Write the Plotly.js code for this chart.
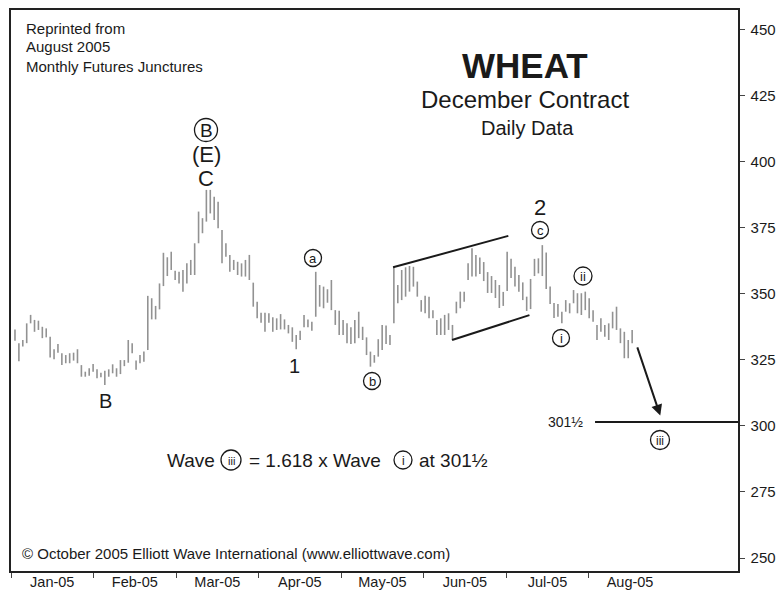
<!DOCTYPE html>
<html><head><meta charset="utf-8">
<script src="https://cdn.plot.ly/plotly-3.0.1.min.js"></script>
<style>html,body{margin:0;padding:0;background:#fff}</style>
</head><body><div id="chart" style="width:780px;height:590px"></div>
<script>
// ---- data ----
const months = ['Jan-05','Feb-05','Mar-05','Apr-05','May-05','Jun-05','Jul-05','Aug-05'];
const high = [336.5,331.3,332.5,338.8,342.0,340.1,339.8,337.5,336.9,333.7,
329.0,331.0,327.5,326.8,327.5,327.7,329.0,323.0,320.5,321.8,
323.4,321.4,320.1,320.9,321.4,323.3,321.8,324.9,324.9,332.5,
331.3,324.7,326.8,328.1,349.2,348.3,345.4,353.9,365.5,363.8,
365.9,358.7,358.3,359.0,361.5,362.8,369.1,381.1,378.6,389.3,
389.3,386.7,384.8,374.1,369.1,364.7,362.8,362.1,361.5,362.8,
364.7,354.2,347.0,342.8,342.8,342.6,341.1,340.7,342.3,340.3,
338.2,337.3,334.4,336.0,342.0,340.3,339.4,358.3,353.3,352.7,
351.7,355.2,343.8,343.6,340.1,338.8,337.3,340.1,343.2,337.5,
333.5,328.1,326.8,332.8,338.2,338.0,334.4,360.0,353.3,359.0,
360.0,360.5,360.2,354.6,347.6,349.2,348.9,343.8,340.1,340.7,
342.0,342.6,338.2,347.0,350.8,350.8,361.5,367.2,364.7,363.7,
362.0,358.2,356.7,355.2,353.3,350.7,365.9,363.2,360.2,357.1,
354.3,348.9,355.6,363.2,363.4,368.4,365.6,352.7,346.5,346.1,
343.2,347.6,346.4,351.4,350.2,350.2,350.8,348.3,343.8,338.2,
340.7,338.2,338.8,343.2,345.1,336.9,335.6,332.5,336.3];
const low = [332.2,324.5,330.0,331.3,338.8,335.6,336.3,333.2,333.5,325.9,
325.2,327.7,323.0,323.7,323.7,324.7,323.7,318.6,318.6,319.0,
320.5,318.0,318.4,315.5,318.6,319.9,318.6,319.6,322.6,323.9,
327.5,321.2,323.7,324.3,328.7,340.3,340.3,344.1,352.9,356.7,
359.0,355.2,353.9,350.8,353.9,357.1,357.1,369.1,372.9,377.3,
380.4,377.9,374.8,361.5,364.0,358.3,359.0,357.1,356.5,356.5,
355.2,345.1,340.7,339.0,335.6,339.0,335.6,336.3,336.5,336.5,
335.0,331.8,329.0,332.5,337.3,337.3,336.0,341.3,345.1,344.5,
346.6,343.8,338.2,334.4,334.4,331.3,331.0,331.3,333.2,332.5,
326.8,322.4,323.9,326.2,328.7,331.0,330.6,338.8,346.4,347.6,
348.9,350.8,352.7,348.9,343.2,342.6,340.7,340.7,334.4,334.4,
334.4,336.3,332.5,342.6,344.5,347.0,355.2,356.5,356.5,357.5,
354.8,350.3,350.3,348.4,344.6,345.4,351.0,356.0,352.7,350.8,
347.6,343.5,344.2,356.7,357.7,356.7,351.8,346.1,340.8,341.3,
338.8,343.2,342.6,346.4,342.6,341.96,343.8,340.7,339.4,332.5,
335.6,333.7,332.5,336.9,336.3,331.3,325.6,325.6,331.3];
const yTicks = [250,275,300,325,350,375,400,425,450];
const targetPrice = 301.5;
const targetLabel = '301½';

// ---- geometry helpers ----
const L = 11, R = 738, T = 10, B = 571;
const P = (px, py) => ({x: (px - L) / (R - L), y: (B - py) / (B - T)});
const FONT = 'Liberation Sans, Arial, Helvetica, sans-serif';
const xr = [-1.02, 185.1];
const span = 21.13, t0 = -1.02;

// high-low bars as line segments
const bx = [], by = [];
high.forEach((h, i) => { bx.push(i, i, null); by.push(low[i], h, null); });

const traces = [{
  x: bx, y: by, type: 'scatter', mode: 'lines',
  line: {color: '#929292', width: 1.6}, hoverinfo: 'skip', showlegend: false
}];

const annotations = [];
function txt(px, py, text, size, opt) {
  const p = P(px, py);
  annotations.push(Object.assign({xref: 'paper', yref: 'paper', x: p.x, y: p.y,
    text: text, showarrow: false, xanchor: 'center', yanchor: 'middle',
    font: {family: FONT, size: size, color: '#1a1a1a'}}, opt || {}));
}
const shapes = [];
function circ(px, py, r) {
  const a = P(px - r, py + r), b = P(px + r, py - r);
  shapes.push({type: 'circle', xref: 'paper', yref: 'paper', x0: a.x, y0: a.y, x1: b.x, y1: b.y,
    line: {color: '#1a1a1a', width: 1.3}});
}
function circled(px, py, t, r, size) { circ(px, py, r); txt(px, py + 0.5, t, size); }

// header text
txt(24, 29, 'Reprinted from', 15, {xanchor: 'left'});
txt(24, 47, 'August 2005', 15, {xanchor: 'left'});
txt(24, 66, 'Monthly Futures Junctures', 15, {xanchor: 'left'});
txt(525, 65, '<b>WHEAT</b>', 35);
txt(525, 100, 'December Contract', 24);
txt(527, 128, 'Daily Data', 20);

// wave labels
circled(206, 130, 'B', 11.5, 19);
txt(206, 155, '(E)', 22);
txt(206, 178, 'C', 22);
txt(105, 401, 'B', 20);
txt(294, 366, '1', 20);
txt(540, 207, '2', 22);
circled(313, 258, 'a', 8.5, 13);
circled(372, 381, 'b', 8.5, 13);
circled(540, 230, 'c', 8.5, 13);
circled(561, 338, 'i', 8.5, 13);
circled(583, 276, 'ii', 9, 13);
circled(660, 440, 'iii', 9.5, 12);
txt(565, 422, targetLabel, 14);

// projection text line
txt(165, 460, 'Wave', 19, {xanchor: 'left'});
circled(231, 460, 'iii', 10, 11);
txt(247, 460, '= 1.618 x Wave', 19, {xanchor: 'left'});
circled(403, 460, 'i', 9, 12);
txt(417, 460, 'at ' + targetLabel, 19, {xanchor: 'left'});

txt(20, 553, '© October 2005 Elliott Wave International (www.elliottwave.com)', 15, {xanchor: 'left'});

// projection arrow (data coords)
annotations.push({xref: 'x', yref: 'y', axref: 'x', ayref: 'y',
  x: 165.2, y: 303.9, ax: 159.2, ay: 330.3, showarrow: true, text: '',
  arrowhead: 2, arrowsize: 1.1, arrowwidth: 2, arrowcolor: '#1a1a1a'});

// flag channel lines and target line (data coords)
shapes.push({type: 'line', xref: 'x', yref: 'y', x0: 96.8, y0: 360.0, x1: 126.3, y1: 371.9,
  line: {color: '#1a1a1a', width: 2}});
shapes.push({type: 'line', xref: 'x', yref: 'y', x0: 111.9, y0: 332.5, x1: 131.7, y1: 341.9,
  line: {color: '#1a1a1a', width: 2}});
shapes.push({type: 'line', xref: 'x', yref: 'y', x0: 148.5, y0: targetPrice, x1: xr[1], y1: targetPrice,
  line: {color: '#1a1a1a', width: 2}});

const labelVals = months.map((m, k) => t0 + (k + 0.5) * span);
const bounds = months.map((m, k) => t0 + k * span);

const layout = {
  width: 780, height: 590,
  margin: {l: L, r: 780 - R, t: T, b: 590 - B},
  paper_bgcolor: '#fff', plot_bgcolor: '#fff',
  showlegend: false,
  font: {family: FONT, color: '#1a1a1a'},
  xaxis: {range: xr, showgrid: false, zeroline: false, showline: true, mirror: true,
    linecolor: '#222', linewidth: 1.6, tickmode: 'array', tickvals: labelVals, ticktext: months,
    ticks: 'outside', ticklen: 0, ticklabelstandoff: -3,
    tickfont: {size: 14.5, family: FONT, color: '#1a1a1a'},
    minor: {tickmode: 'array', tickvals: bounds, ticks: 'outside', ticklen: 5, tickcolor: '#444', tickwidth: 1},
    fixedrange: true},
  yaxis: {side: 'right', range: [245.08, 457.38], showgrid: false, zeroline: false,
    showline: true, mirror: true, linecolor: '#222', linewidth: 1.6,
    tickmode: 'array', tickvals: yTicks, ticktext: yTicks.map(String),
    ticks: 'outside', ticklen: 5, tickcolor: '#444', ticklabelstandoff: 3,
    tickfont: {size: 15, family: FONT, color: '#1a1a1a'}, fixedrange: true},
  annotations: annotations,
  shapes: shapes
};
Plotly.newPlot('chart', traces, layout, {staticPlot: true, displayModeBar: false});
</script></body></html>
